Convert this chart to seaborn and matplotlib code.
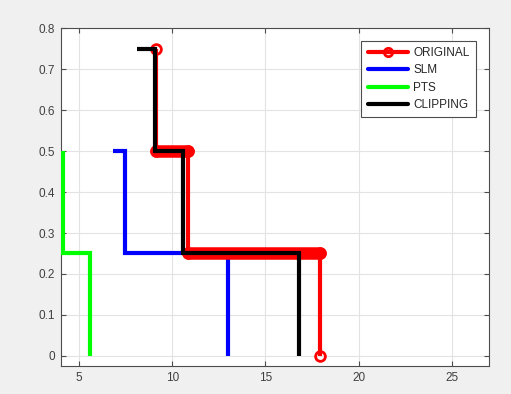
import numpy as np
import pandas as pd
import seaborn as sns
import matplotlib.pyplot as plt
from matplotlib.lines import Line2D

# Step curves (x, probability) for each scheme
orig_x = [9.13, 9.13, 10.85, 10.85, 17.95, 17.95]
orig_y = [0.75, 0.50, 0.50, 0.25, 0.25, 0.00]

slm_x = [6.83, 7.45, 7.45, 13.00, 13.00]
slm_y = [0.50, 0.50, 0.25, 0.25, 0.00]

pts_x = [4.13, 4.13, 5.58, 5.58]
pts_y = [0.50, 0.25, 0.25, 0.00]

clip_x = [8.13, 9.05, 9.05, 10.55, 10.55, 16.80, 16.80]
clip_y = [0.75, 0.75, 0.50, 0.50, 0.25, 0.25, 0.00]

labels = ["ORIGINAL", "SLM", "PTS", "CLIPPING"]
colors = {"ORIGINAL": "#ff0000", "SLM": "#0000ff", "PTS": "#00ff00", "CLIPPING": "#000000"}

x_ticks = [5, 10, 15, 20, 25]
y_ticks = [0, 0.1, 0.2, 0.3, 0.4, 0.5, 0.6, 0.7, 0.8]

sns.set_theme(style="ticks")
plt.rcParams["font.family"] = ["Liberation Sans", "DejaVu Sans"]

fig = plt.figure(figsize=(5.11, 3.94), dpi=100, facecolor="#f0f0f0")
ax = fig.add_axes([0.1185, 0.071, 0.8385, 0.857])
ax.set_facecolor("white")

line_kw = dict(sort=False, estimator=None, linewidth=3.0, legend=False,
               solid_capstyle="butt", solid_joinstyle="miter")

sns.lineplot(x=slm_x, y=slm_y, color=colors["SLM"], ax=ax, zorder=3, **line_kw)
sns.lineplot(x=pts_x, y=pts_y, color=colors["PTS"], ax=ax, zorder=3, **line_kw)

# ORIGINAL: line with hollow circle markers; dense markers form a solid band on the flat runs
sns.lineplot(x=orig_x, y=orig_y, color=colors["ORIGINAL"], ax=ax, zorder=4,
             marker="o", markersize=7, markeredgewidth=2, markerfacecolor="none",
             markeredgecolor=colors["ORIGINAL"], **line_kw)
ox = np.array(orig_x)
oy = np.array(orig_y)
flat = (oy[:-1] == oy[1:]) & (ox[:-1] != ox[1:])
ax.hlines(oy[:-1][flat], ox[:-1][flat], ox[1:][flat], colors=colors["ORIGINAL"],
          linewidth=9, capstyle="round", zorder=4)

sns.lineplot(x=clip_x, y=clip_y, color=colors["CLIPPING"], ax=ax, zorder=5, **line_kw)

ax.set_xlim(4, 27)
ax.set_ylim(-0.025, 0.8)
ax.set_xticks(x_ticks)
ax.set_yticks(y_ticks)
ax.set_xticklabels([f"{v:g}" for v in x_ticks])
ax.set_yticklabels([f"{v:g}" for v in y_ticks])
ax.set_xlabel("")
ax.set_ylabel("")

ax.grid(True, color="#e3e3e3", linewidth=0.8)
ax.set_axisbelow(True)
for s in ax.spines.values():
    s.set_visible(True)
    s.set_color("#4d4d4d")
    s.set_linewidth(0.8)
ax.tick_params(axis="both", which="both", direction="in", length=3.5, width=0.8,
               color="#4d4d4d", labelcolor="#404040", labelsize=8.5,
               top=True, right=True, pad=4)

handles = [
    Line2D([], [], color=colors["ORIGINAL"], linewidth=3, marker="o", markersize=6,
           markeredgewidth=2, markerfacecolor="none"),
    Line2D([], [], color=colors["SLM"], linewidth=3),
    Line2D([], [], color=colors["PTS"], linewidth=3),
    Line2D([], [], color=colors["CLIPPING"], linewidth=3),
]
leg = ax.legend(handles, labels, loc="upper right", bbox_to_anchor=(0.969, 0.964),
                borderaxespad=0, fontsize=8.5, handlelength=3.4, handletextpad=0.45,
                labelspacing=0.45, borderpad=0.55, fancybox=False, framealpha=1,
                edgecolor="#4d4d4d", facecolor="white")
leg.get_frame().set_linewidth(0.8)

fig.savefig("out.png", dpi=100, facecolor=fig.get_facecolor())
